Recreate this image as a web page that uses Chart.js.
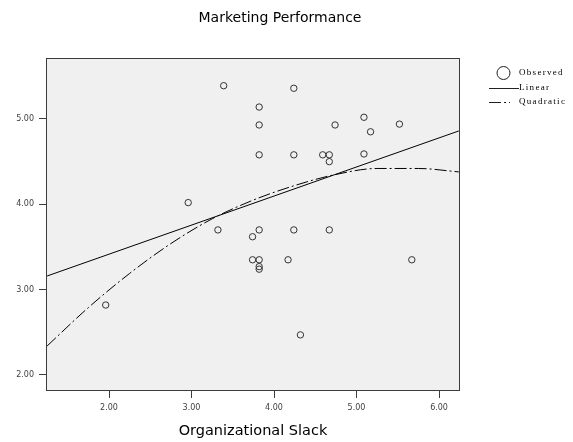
<!DOCTYPE html>
<html>
<head>
<meta charset="utf-8">
<title>Marketing Performance</title>
<script src="https://cdn.jsdelivr.net/npm/chart.js@4.4.1/dist/chart.umd.min.js"></script>
<style>
  html, body { margin: 0; padding: 0; background: #ffffff; }
  #wrap { width: 573px; height: 442px; }
</style>
</head>
<body>
<div id="wrap"><canvas id="chart" width="573" height="442"></canvas></div>
<script>
// Observed cases: organizational slack (x) vs. marketing performance (y)
const slackValues = [3.39, 4.24, 3.82, 3.82, 4.74, 3.82, 4.24, 4.59, 4.67, 4.67,
                     2.96, 5.09, 5.17, 5.52, 5.09, 3.32, 3.82, 3.74, 4.24, 4.67,
                     3.74, 3.82, 3.82, 3.82, 4.17, 5.67, 4.32, 1.96];
const performanceValues = [5.39, 5.36, 5.14, 4.93, 4.93, 4.58, 4.58, 4.58, 4.58, 4.50,
                           4.02, 5.02, 4.85, 4.94, 4.59, 3.70, 3.70, 3.62, 3.70, 3.70,
                           3.35, 3.35, 3.27, 3.24, 3.35, 3.35, 2.47, 2.82];

// Fitted lines, sampled across the visible x range
const linearX = [1.25, 6.24];
const linearY = [3.16, 4.86];
const quadraticX = [1.25, 1.75, 2.25, 2.75, 3.25, 3.75, 4.25, 4.75, 5.25, 5.75, 6.24];
const quadraticY = [2.34, 2.79, 3.19, 3.54, 3.83, 4.05, 4.22, 4.35, 4.42, 4.42, 4.38];

// Axis ticks
const xTickValues = [2, 3, 4, 5, 6];
const yTickValues = [2, 3, 4, 5];

const toPoints = (xs, ys) => xs.map((x, i) => ({ x: x, y: ys[i] }));

const FRAME = '#3c3c3c';
const TICK_TEXT = '#404040';

// Grey plot background and the box round it
const plotFrame = {
  id: 'plotFrame',
  beforeDraw(chart) {
    const { ctx, chartArea: a } = chart;
    ctx.save();
    ctx.fillStyle = '#f0f0f0';
    ctx.fillRect(a.left, a.top, a.right - a.left, a.bottom - a.top);
    ctx.restore();
  },
  afterDraw(chart) {
    const { ctx, chartArea: a } = chart;
    ctx.save();
    ctx.strokeStyle = FRAME;
    ctx.lineWidth = 1;
    ctx.strokeRect(Math.round(a.left) - 0.5, Math.round(a.top) - 0.5,
                   Math.round(a.right - a.left) + 1, Math.round(a.bottom - a.top) + 1);
    ctx.restore();
  }
};

// Key to the three series, placed right of the plot
const sideKey = {
  id: 'sideKey',
  afterDraw(chart) {
    const { ctx } = chart;
    ctx.save();
    ctx.font = '9px "Liberation Serif", serif';
    ctx.letterSpacing = '1.3px';
    ctx.fillStyle = '#000';
    ctx.textBaseline = 'middle';
    ctx.textAlign = 'left';
    const rows = [73, 88, 102];
    chart.data.datasets.forEach((ds, i) => {
      const y = rows[i];
      ctx.strokeStyle = '#222';
      ctx.lineWidth = 1;
      if (ds.type === 'scatter') {
        ctx.beginPath();
        ctx.arc(503.5, y, 6.5, 0, Math.PI * 2);
        ctx.stroke();
      } else {
        ctx.setLineDash(ds.borderDash || []);
        ctx.beginPath();
        ctx.moveTo(489, y + 0.5);
        ctx.lineTo(ds.borderDash ? 510 : 519, y + 0.5);
        ctx.stroke();
        ctx.setLineDash([]);
      }
      ctx.fillText(ds.label, 519, y);
    });
    ctx.restore();
  }
};

new Chart(document.getElementById('chart'), {
  data: {
    datasets: [
      {
        type: 'scatter',
        label: 'Observed',
        data: toPoints(slackValues, performanceValues),
        pointStyle: 'circle',
        pointRadius: 3.2,
        pointHoverRadius: 3.2,
        pointBorderWidth: 1,
        pointBorderColor: '#333333',
        pointBackgroundColor: 'rgba(0,0,0,0)',
        yAxisID: 'y',
        order: 1
      },
      {
        type: 'line',
        label: 'Linear',
        data: toPoints(linearX, linearY),
        borderColor: '#000000',
        borderWidth: 1,
        pointRadius: 0,
        fill: false,
        yAxisID: 'y',
        order: 2
      },
      {
        type: 'line',
        label: 'Quadratic',
        data: toPoints(quadraticX, quadraticY),
        borderColor: '#000000',
        borderWidth: 1,
        borderDash: [12, 3, 2, 3],
        pointRadius: 0,
        tension: 0.4,
        cubicInterpolationMode: 'monotone',
        fill: false,
        yAxisID: 'y',
        order: 3
      }
    ]
  },
  options: {
    responsive: false,
    animation: false,
    devicePixelRatio: 1,
    layout: { padding: { left: 0, right: 13, top: 0, bottom: 0 } },
    plugins: {
      legend: { display: false },
      tooltip: { enabled: false },
      title: {
        display: true,
        text: 'Marketing Performance',
        color: '#000000',
        font: { family: '"DejaVu Sans", sans-serif', size: 14, weight: 'normal', lineHeight: 1.2 },
        padding: { top: 10, bottom: 32.2 }
      }
    },
    scales: {
      x: {
        type: 'linear',
        position: 'bottom',
        min: 1.2485,
        max: 6.242,
        afterBuildTicks: s => { s.ticks = xTickValues.map(v => ({ value: v })); },
        afterFit: s => { s.height = 52; },
        ticks: {
          color: TICK_TEXT,
          padding: 5,
          font: { family: '"DejaVu Sans", sans-serif', size: 8 },
          callback: v => Number(v).toFixed(2)
        },
        grid: { display: true, drawOnChartArea: false, drawTicks: true, tickLength: 8, tickColor: FRAME, tickWidth: 1 },
        border: { display: false },
        title: {
          display: true,
          text: 'Organizational Slack',
          color: '#000000',
          font: { family: '"DejaVu Sans", sans-serif', size: 14.5, lineHeight: 1.2 },
          padding: { top: 0, bottom: 2 }
        }
      },
      y: {
        type: 'linear',
        position: 'left',
        min: 1.824,
        max: 5.703,
        afterBuildTicks: s => { s.ticks = yTickValues.map(v => ({ value: v })); },
        afterFit: s => { s.width = 47; },
        ticks: {
          color: TICK_TEXT,
          padding: 5,
          font: { family: '"DejaVu Sans", sans-serif', size: 8 },
          callback: v => Number(v).toFixed(2)
        },
        grid: { display: true, drawOnChartArea: false, drawTicks: true, tickLength: 8, tickColor: FRAME, tickWidth: 1 },
        border: { display: false }
      },
      // Empty strip on the right that holds the key
      keyStrip: {
        type: 'linear',
        position: 'right',
        display: true,
        afterFit: s => { s.width = 101; },
        ticks: { display: false },
        grid: { display: false, drawTicks: false },
        border: { display: false }
      }
    }
  },
  plugins: [plotFrame, sideKey]
});
</script>
</body>
</html>
